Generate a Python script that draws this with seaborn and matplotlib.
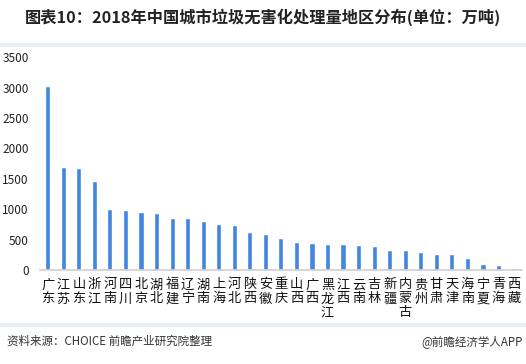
import matplotlib
matplotlib.use("Agg")
import matplotlib.pyplot as plt
import seaborn as sns
from matplotlib.lines import Line2D

provinces = ["广东", "江苏", "山东", "浙江", "河南", "四川", "北京", "湖北", "福建", "辽宁",
             "湖南", "上海", "河北", "陕西", "安徽", "重庆", "山西", "广西", "黑龙江", "江西",
             "云南", "吉林", "新疆", "内蒙古", "贵州", "甘肃", "天津", "海南", "宁夏", "青海", "西藏"]
values = [3022, 1692, 1675, 1462, 1002, 985, 953, 936, 854, 852,
          805, 755, 739, 624, 595, 530, 465, 449, 432, 430,
          416, 400, 334, 333, 301, 268, 267, 203, 104, 88, 38]
yticks = [0, 500, 1000, 1500, 2000, 2500, 3000, 3500]

sns.set_theme(style="white")
plt.rcParams["font.family"] = ["Noto Sans CJK SC", "DejaVu Sans"]

fig = plt.figure(figsize=(5.26, 3.64), dpi=100)
ax = fig.add_axes([0.076, 0.258, 0.916, 0.585])

sns.barplot(x=provinces, y=values, color="#4286E2", width=0.33, saturation=1, ax=ax)

ax.set_ylim(0, 3500)
ax.set_yticks(yticks)
ax.set_yticklabels([str(v) for v in yticks], fontsize=8.5, color="#222222")
ax.set_xticks(range(len(provinces)))
ax.set_xticklabels(["\n".join(p) for p in provinces], fontsize=9.5, color="#111111",
                   va="top", linespacing=1.1)
ax.tick_params(axis="both", length=0)
ax.tick_params(axis="x", pad=6)
ax.tick_params(axis="y", pad=8)
ax.set_xlim(-0.5, len(provinces) - 0.5)
for s in ["top", "right", "left"]:
    ax.spines[s].set_visible(False)
ax.spines["bottom"].set_color("#d0d0d0")
ax.spines["bottom"].set_linewidth(1.2)

fig.text(0.5, 0.952, "图表10：2018年中国城市垃圾无害化处理量地区分布(单位：万吨)",
         ha="center", va="center", fontsize=11.7, fontweight="bold", color="#222222")

# separator bands
fig.add_artist(Line2D([0, 1], [0.877, 0.877], color="#e9eef5", lw=3, transform=fig.transFigure))
fig.add_artist(Line2D([0, 1], [0.107, 0.107], color="#e9eef5", lw=3, transform=fig.transFigure))

fig.text(0.013, 0.062, "资料来源：CHOICE 前瞻产业研究院整理", ha="left", va="center",
         fontsize=8.3, color="#333333")
fig.text(0.993, 0.062, "@前瞻经济学人APP", ha="right", va="center",
         fontsize=8.3, color="#333333")

fig.savefig("out.png", dpi=100)
